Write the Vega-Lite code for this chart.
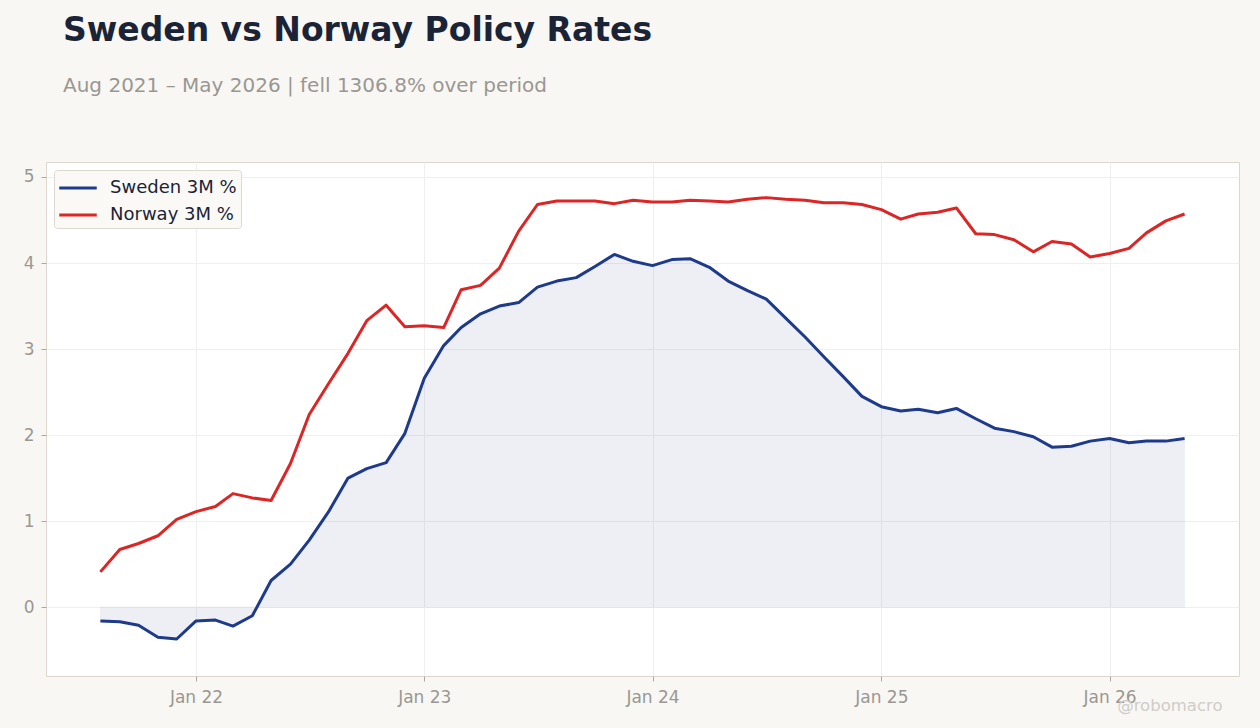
{
  "$schema": "https://vega.github.io/schema/vega-lite/v6.json",
  "description": "Sweden vs Norway 3M policy rates, monthly.",
  "width": 1193,
  "height": 514,
  "autosize": "none",
  "padding": {"left": 46, "top": 162, "right": 21, "bottom": 52},
  "background": "#f8f7f4",
  "title": {
    "text": "Sweden vs Norway Policy Rates",
    "subtitle": "Aug 2021 – May 2026 | fell 1306.8% over period",
    "anchor": "start",
    "frame": "group",
    "dx": 17,
    "offset": 66,
    "font": "DejaVu Sans",
    "fontSize": 33,
    "fontWeight": "bold",
    "color": "#1b2436",
    "subtitleFont": "DejaVu Sans",
    "subtitleFontSize": 20,
    "subtitleColor": "#9a9792",
    "subtitlePadding": 28
  },
  "data": {
    "values": [
      {"date": "2021-08-01", "sweden": -0.16, "norway": 0.41},
      {"date": "2021-09-01", "sweden": -0.17, "norway": 0.67},
      {"date": "2021-10-01", "sweden": -0.21, "norway": 0.74},
      {"date": "2021-11-01", "sweden": -0.35, "norway": 0.83},
      {"date": "2021-12-01", "sweden": -0.37, "norway": 1.02},
      {"date": "2022-01-01", "sweden": -0.16, "norway": 1.11},
      {"date": "2022-02-01", "sweden": -0.15, "norway": 1.17},
      {"date": "2022-03-01", "sweden": -0.22, "norway": 1.32},
      {"date": "2022-04-01", "sweden": -0.10, "norway": 1.27},
      {"date": "2022-05-01", "sweden": 0.31, "norway": 1.24},
      {"date": "2022-06-01", "sweden": 0.50, "norway": 1.67},
      {"date": "2022-07-01", "sweden": 0.78, "norway": 2.24},
      {"date": "2022-08-01", "sweden": 1.11, "norway": 2.60},
      {"date": "2022-09-01", "sweden": 1.50, "norway": 2.95},
      {"date": "2022-10-01", "sweden": 1.61, "norway": 3.33},
      {"date": "2022-11-01", "sweden": 1.68, "norway": 3.51},
      {"date": "2022-12-01", "sweden": 2.02, "norway": 3.26},
      {"date": "2023-01-01", "sweden": 2.66, "norway": 3.27},
      {"date": "2023-02-01", "sweden": 3.04, "norway": 3.25},
      {"date": "2023-03-01", "sweden": 3.25, "norway": 3.69},
      {"date": "2023-04-01", "sweden": 3.41, "norway": 3.74},
      {"date": "2023-05-01", "sweden": 3.50, "norway": 3.94},
      {"date": "2023-06-01", "sweden": 3.54, "norway": 4.37},
      {"date": "2023-07-01", "sweden": 3.72, "norway": 4.68},
      {"date": "2023-08-01", "sweden": 3.79, "norway": 4.72},
      {"date": "2023-09-01", "sweden": 3.83, "norway": 4.72},
      {"date": "2023-10-01", "sweden": 3.96, "norway": 4.72},
      {"date": "2023-11-01", "sweden": 4.10, "norway": 4.69},
      {"date": "2023-12-01", "sweden": 4.02, "norway": 4.73},
      {"date": "2024-01-01", "sweden": 3.97, "norway": 4.71},
      {"date": "2024-02-01", "sweden": 4.04, "norway": 4.71},
      {"date": "2024-03-01", "sweden": 4.05, "norway": 4.73},
      {"date": "2024-04-01", "sweden": 3.95, "norway": 4.72},
      {"date": "2024-05-01", "sweden": 3.79, "norway": 4.71},
      {"date": "2024-06-01", "sweden": 3.68, "norway": 4.74},
      {"date": "2024-07-01", "sweden": 3.58, "norway": 4.76},
      {"date": "2024-08-01", "sweden": 3.36, "norway": 4.74},
      {"date": "2024-09-01", "sweden": 3.14, "norway": 4.73},
      {"date": "2024-10-01", "sweden": 2.91, "norway": 4.70},
      {"date": "2024-11-01", "sweden": 2.68, "norway": 4.70},
      {"date": "2024-12-01", "sweden": 2.45, "norway": 4.68},
      {"date": "2025-01-01", "sweden": 2.33, "norway": 4.62},
      {"date": "2025-02-01", "sweden": 2.28, "norway": 4.51},
      {"date": "2025-03-01", "sweden": 2.30, "norway": 4.57},
      {"date": "2025-04-01", "sweden": 2.26, "norway": 4.59},
      {"date": "2025-05-01", "sweden": 2.31, "norway": 4.64},
      {"date": "2025-06-01", "sweden": 2.19, "norway": 4.34},
      {"date": "2025-07-01", "sweden": 2.08, "norway": 4.33},
      {"date": "2025-08-01", "sweden": 2.04, "norway": 4.27},
      {"date": "2025-09-01", "sweden": 1.98, "norway": 4.13},
      {"date": "2025-10-01", "sweden": 1.86, "norway": 4.25},
      {"date": "2025-11-01", "sweden": 1.87, "norway": 4.22},
      {"date": "2025-12-01", "sweden": 1.93, "norway": 4.07},
      {"date": "2026-01-01", "sweden": 1.96, "norway": 4.11},
      {"date": "2026-02-01", "sweden": 1.91, "norway": 4.17},
      {"date": "2026-03-01", "sweden": 1.93, "norway": 4.35},
      {"date": "2026-04-01", "sweden": 1.93, "norway": 4.49},
      {"date": "2026-05-01", "sweden": 1.96, "norway": 4.57}
    ]
  },
  "transform": [
    {"fold": ["sweden", "norway"], "as": ["series", "rate"]}
  ],
  "encoding": {
    "x": {
      "field": "date",
      "type": "temporal",
      "scale": {"domain": ["2021-05-06", "2026-07-27"]},
      "axis": {
        "format": "%b %y",
        "tickCount": {"interval": "year", "step": 1},
        "title": "@robomacro",
        "titleX": 1176,
        "titleY": 34,
        "titleAlign": "right",
        "titleBaseline": "alphabetic",
        "titleColor": "#cfcdc9",
        "titleFontSize": 16.5,
        "titleFontWeight": "normal",
        "titleFont": "DejaVu Sans"
      }
    },
    "y": {
      "field": "rate",
      "type": "quantitative",
      "scale": {"domain": [-0.8, 5.174], "nice": false, "zero": false},
      "axis": {"values": [0, 1, 2, 3, 4, 5], "title": null}
    }
  },
  "layer": [
    {
      "transform": [{"filter": "datum.series == 'sweden'"}],
      "mark": {
        "type": "area",
        "color": "#1e3a8a",
        "opacity": 0.075,
        "stroke": "#1e3a8a",
        "strokeWidth": 1
      },
      "encoding": {"y2": {"datum": 0}}
    },
    {
      "mark": {"type": "line", "strokeWidth": 3, "strokeJoin": "round"},
      "encoding": {
        "color": {
          "field": "series",
          "type": "nominal",
          "scale": {"domain": ["sweden", "norway"], "range": ["#1e3a8a", "#dc2626"]},
          "legend": {
            "title": null,
            "orient": "top-left",
            "offset": 8,
            "labelExpr": "datum.label == 'sweden' ? 'Sweden 3M %' : 'Norway 3M %'",
            "symbolType": "M-1.5,0H1.5",
            "symbolSize": 625,
            "symbolStrokeWidth": 3,
            "symbolOffset": 6,
            "rowPadding": 4,
            "labelOffset": 18,
            "labelFontSize": 18,
            "labelFont": "DejaVu Sans",
            "labelColor": "#1b2436",
            "fillColor": "#faf9f6",
            "strokeColor": "#dcd9d2",
            "cornerRadius": 3,
            "padding": 4
          }
        }
      }
    }
  ],
  "config": {
    "font": "DejaVu Sans",
    "view": {"stroke": "#dcd6cc", "fill": "white"},
    "axis": {
      "domain": false,
      "grid": true,
      "gridColor": "#efefef",
      "gridWidth": 1,
      "tickColor": "#aaa6a0",
      "tickSize": 5,
      "labelFontSize": 17,
      "labelColor": "#9a9792",
      "labelFont": "DejaVu Sans",
      "labelPadding": 7
    },
    "axisX": {"labelPadding": 8}
  }
}
